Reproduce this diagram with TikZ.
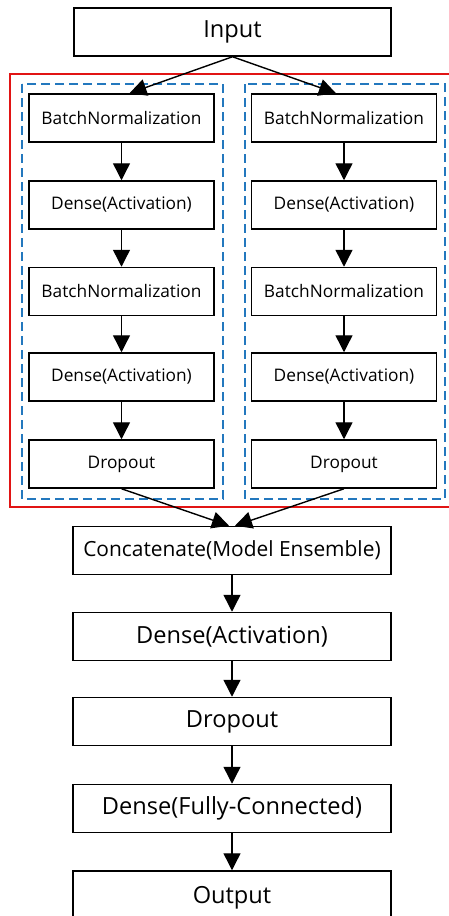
\documentclass[tikz,border=0pt]{standalone}
\usepackage{fontspec}
\setmainfont{Open Sans}
\usetikzlibrary{arrows.meta}
\definecolor{redline}{RGB}{225,20,20}
\definecolor{blueline}{RGB}{35,120,190}
\tikzset{
  box/.style={draw=black, line width=1.5pt, fill=white, inner sep=0pt, align=center},
  smallbox/.style={box, minimum width=185pt, minimum height=48pt, font=\fontsize{17.3}{20}\selectfont},
  bigbox/.style={box, minimum width=318pt, minimum height=48pt, font=\fontsize{23.6}{26}\selectfont},
  arr/.style={line width=1.4pt, -{Triangle[length=17pt,width=17pt]}},
  branch/.style={draw=blueline, line width=1.4pt, dash pattern=on 9pt off 5pt},
}
\begin{document}
\begin{tikzpicture}[x=1pt,y=-1pt]
\useasboundingbox (0,0) rectangle (449,916);
\clip (0,0) rectangle (449,916);
% group frames
\draw[draw=redline, line width=1.4pt] (10,74) rectangle (452,507);
\draw[branch] (22,84) rectangle (223,499);
\draw[branch] (245,84) rectangle (445,499);
% top
\node[bigbox, minimum width=317pt] (in) at (232.5,32) {Input};
% left branch
\node[smallbox] (l1) at (121.5,118) {BatchNormalization};
\node[smallbox] (l2) at (121.5,205) {Dense(Activation)};
\node[smallbox] (l3) at (121.5,291.5) {BatchNormalization};
\node[smallbox] (l4) at (121.5,377) {Dense(Activation)};
\node[smallbox] (l5) at (121.5,464) {Dropout};
% right branch
\node[smallbox] (r1) at (344,118) {BatchNormalization};
\node[smallbox] (r2) at (344,205) {Dense(Activation)};
\node[smallbox] (r3) at (344,291.5) {BatchNormalization};
\node[smallbox] (r4) at (344,377) {Dense(Activation)};
\node[smallbox] (r5) at (344,464) {Dropout};
% bottom chain
\node[bigbox, font=\fontsize{20.9}{24}\selectfont] (c1) at (232,550.5) {Concatenate(Model Ensemble)};
\node[bigbox] (c2) at (232,636.5) {Dense(Activation)};
\node[bigbox] (c3) at (232,721.5) {Dropout};
\node[bigbox] (c4) at (232,808.5) {Dense(Fully-Connected)};
\node[bigbox, minimum height=54pt] (c5) at (232,898) {Output};
% arrows
\draw[arr] (in.south) -- ([xshift=8pt]l1.north);
\draw[arr] (in.south) -- ([xshift=-8pt]r1.north);
\foreach \a/\b in {l1/l2,l2/l3,l3/l4,l4/l5,r1/r2,r2/r3,r3/r4,r4/r5,c1/c2,c2/c3,c3/c4,c4/c5}
  \draw[arr] (\a.south) -- (\b.north);
\draw[arr] (l5.south) -- ([xshift=-3pt]c1.north);
\draw[arr] (r5.south) -- ([xshift=3pt]c1.north);
\end{tikzpicture}
\end{document}
